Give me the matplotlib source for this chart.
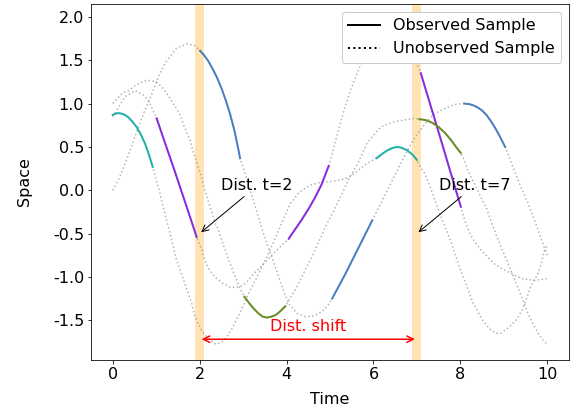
import numpy as np
import matplotlib.pyplot as plt
from matplotlib.lines import Line2D

plt.rcParams['font.size'] = 16
plt.rcParams['axes.unicode_minus'] = False

# four samples, values (time, space)
blue_t = [0.0, 0.16, 0.34, 0.47, 0.59, 0.72, 0.82, 0.89, 1.05, 1.22, 1.47, 1.70, 1.89,
          2.01, 2.1, 2.2, 2.3, 2.4, 2.5, 2.6, 2.7, 2.8, 2.9, 2.93,
          3.05, 3.16, 3.28, 3.43, 3.55, 3.66, 3.90, 4.05, 4.24, 4.43, 4.63, 4.82, 4.95,
          5.05, 5.2, 5.35, 5.5, 5.65, 5.8, 5.97,
          6.09, 6.32, 6.55, 6.74, 6.94, 7.13, 7.36, 7.63, 7.86,
          8.09, 8.2, 8.3, 8.4, 8.5, 8.6, 8.7, 8.8, 8.9, 9.0, 9.03,
          9.24, 9.40, 9.56, 9.68, 9.79, 9.93, 10.0]
blue_v = [0.0, 0.15, 0.38, 0.56, 0.73, 0.90, 1.01, 1.10, 1.31, 1.48, 1.64, 1.69, 1.67,
          1.61, 1.56, 1.49, 1.40, 1.30, 1.18, 1.04, 0.88, 0.69, 0.45, 0.37,
          0.19, 0.0, -0.19, -0.44, -0.62, -0.77, -1.12, -1.31, -1.42, -1.46, -1.45, -1.40, -1.33,
          -1.25, -1.11, -0.97, -0.82, -0.67, -0.52, -0.35,
          -0.23, 0.0, 0.23, 0.42, 0.60, 0.73, 0.87, 0.94, 0.99,
          1.00, 0.995, 0.98, 0.955, 0.92, 0.87, 0.80, 0.72, 0.63, 0.53, 0.50,
          0.23, 0.03, -0.15, -0.31, -0.46, -0.66, -0.75]
blue_obs = [(2.01, 2.93), (5.05, 5.97), (8.09, 9.03)]

teal_t = [0.0, 0.07, 0.14, 0.24, 0.34, 0.44, 0.55, 0.65, 0.75, 0.84, 0.92,
          1.01, 1.09, 1.16, 1.24, 1.32, 1.39, 1.47, 1.55, 1.66, 1.74, 1.82, 1.89,
          2.05, 2.12, 2.24, 2.38, 2.51, 2.63, 2.74, 2.86, 2.97, 3.09, 3.24, 3.47,
          3.70, 3.93, 4.09, 4.30, 4.55, 4.78, 5.01, 5.24, 5.43, 5.63, 5.82,
          6.07, 6.2, 6.32, 6.45, 6.55, 6.65, 6.78, 6.9, 7.0,
          7.05, 7.17, 7.24, 7.36, 7.47, 7.59, 7.71, 7.82, 7.90, 8.0, 8.13, 8.21,
          8.28, 8.40, 8.51, 8.67, 8.82, 8.94, 9.12, 9.28, 9.44, 9.55, 9.63, 9.77,
          9.86, 9.94, 10.0]
teal_v = [0.87, 0.885, 0.89, 0.88, 0.85, 0.80, 0.73, 0.64, 0.53, 0.40, 0.27,
          0.10, -0.04, -0.19, -0.35, -0.50, -0.65, -0.81, -0.92, -1.08, -1.19, -1.31, -1.46,
          -1.62, -1.67, -1.73, -1.78, -1.75, -1.69, -1.60, -1.48, -1.37, -1.23, -1.08, -0.85,
          -0.60, -0.33, -0.15, -0.02, 0.06, 0.09, 0.10, 0.12, 0.15, 0.22, 0.30,
          0.37, 0.42, 0.46, 0.49, 0.50, 0.49, 0.46, 0.41, 0.35,
          0.29, 0.20, 0.12, -0.04, -0.19, -0.35, -0.50, -0.65, -0.77, -0.92, -1.08, -1.19,
          -1.29, -1.40, -1.50, -1.60, -1.65, -1.65, -1.58, -1.50, -1.37, -1.21, -1.10, -0.98,
          -0.85, -0.69, -0.64]
teal_obs = [(0.0, 0.92), (6.07, 7.0)]

purple_t = [0.0, 0.09, 0.16, 0.28, 0.51, 0.70, 0.82, 0.90,
            1.01, 1.2, 1.4, 1.6, 1.8, 1.93,
            2.05, 2.12, 2.20, 2.28, 2.39, 2.55, 2.70, 2.86, 3.0, 3.10, 3.25, 3.40,
            3.60, 3.80,
            4.05, 4.2, 4.35, 4.5, 4.65, 4.8, 4.97,
            5.05, 5.17, 5.32, 5.47, 5.59, 5.70, 6.0, 6.35, 6.70, 6.95,
            7.09, 7.5, 8.01,
            8.09, 8.17, 8.24, 8.36, 8.48, 8.63, 8.78, 8.94, 9.09, 9.25, 9.40, 9.55,
            9.71, 9.86, 10.0]
purple_v = [0.85, 0.92, 0.98, 1.08, 1.15, 1.10, 1.04, 0.95,
            0.83, 0.55, 0.26, -0.04, -0.34, -0.54,
            -0.69, -0.81, -0.90, -0.96, -1.02, -1.08, -1.12, -1.12, -1.10, -1.05, -0.96, -0.89,
            -0.78, -0.68,
            -0.56, -0.45, -0.34, -0.22, -0.09, 0.06, 0.28,
            0.42, 0.65, 0.92, 1.15, 1.31, 1.44, 1.78, 1.93, 1.78, 1.52,
            1.35, 0.67, -0.19,
            -0.33, -0.44, -0.52, -0.62, -0.69, -0.77, -0.85, -0.90, -0.94, -0.98, -1.02, -1.03,
            -1.04, -1.03, -1.02]
purple_obs = [(1.01, 1.93), (4.05, 4.97), (7.09, 8.01)]

olive_t = [0.0, 0.09, 0.18, 0.26, 0.37, 0.49, 0.59, 0.72, 0.82, 1.01, 1.09, 1.16,
           1.24, 1.32, 1.39, 1.47, 1.55, 1.62, 1.70, 1.78, 1.83, 2.05, 2.12, 2.20,
           2.28, 2.35, 2.43, 2.51, 2.59, 2.66, 2.78, 2.90,
           3.03, 3.15, 3.25, 3.35, 3.45, 3.55, 3.65, 3.75, 3.85, 3.97,
           4.20, 4.40, 4.60, 4.90, 5.09, 5.28, 5.43, 5.63, 5.86, 6.17, 6.47, 6.70,
           6.94,
           7.06, 7.2, 7.35, 7.5, 7.65, 7.8, 7.9, 8.01,
           8.09, 8.17, 8.28, 8.40, 8.51, 8.59, 8.70, 8.85, 9.0, 9.16, 9.32, 9.44,
           9.55, 9.67, 9.79, 9.90, 10.0]
olive_v = [1.0, 1.05, 1.10, 1.13, 1.15, 1.20, 1.23, 1.26, 1.27, 1.25, 1.21, 1.17,
           1.12, 1.06, 1.0, 0.94, 0.87, 0.77, 0.67, 0.58, 0.48, 0.14, 0.0, -0.13,
           -0.25, -0.37, -0.46, -0.58, -0.69, -0.79, -0.95, -1.10,
           -1.23, -1.31, -1.37, -1.42, -1.46, -1.47, -1.46, -1.44, -1.40, -1.34,
           -1.15, -0.95, -0.75, -0.42, -0.23, -0.04, 0.13, 0.30, 0.55, 0.73, 0.79, 0.81,
           0.83,
           0.82, 0.81, 0.78, 0.73, 0.66, 0.57, 0.50, 0.43,
           0.35, 0.23, 0.12, 0.0, -0.12, -0.19, -0.35, -0.55, -0.73, -0.92, -1.12, -1.27,
           -1.42, -1.54, -1.65, -1.73, -1.78]
olive_obs = [(3.03, 3.97), (7.06, 8.01)]

samples = [
    (blue_t, blue_v, blue_obs, '#4a7fc1'),
    (teal_t, teal_v, teal_obs, '#20b2aa'),
    (purple_t, purple_v, purple_obs, '#8a2be2'),
    (olive_t, olive_v, olive_obs, '#6b8e23'),
]

fig = plt.figure(figsize=(579 / 72, 416 / 72), dpi=72)
ax = fig.add_axes([0.1572, 0.1346, 0.8255, 0.8558])

# distributions at t=2 and t=7
ax.axvspan(1.89, 2.1, color='orange', alpha=0.3, lw=0, zorder=0)
ax.axvspan(6.89, 7.1, color='orange', alpha=0.3, lw=0, zorder=0)

for t, v, obs, c in samples:
    t = np.array(t)
    v = np.array(v)
    ax.plot(t, v, ls=':', color='gray', alpha=0.6, lw=1.5)
    for lo, hi in obs:
        m = (t >= lo - 1e-9) & (t <= hi + 1e-9)
        ax.plot(t[m], v[m], color=c, lw=2, solid_joinstyle='round')

ax.annotate('Dist. t=2', xy=(2, -0.5), xytext=(2.5, 0.0),
            arrowprops=dict(arrowstyle='->', color='black', lw=1))
ax.annotate('Dist. t=7', xy=(7, -0.5), xytext=(7.5, 0.0),
            arrowprops=dict(arrowstyle='->', color='black', lw=1))
ax.annotate('', xy=(2, -1.72), xytext=(7, -1.72),
            arrowprops=dict(arrowstyle='<->', color='red', lw=1.5))
ax.text(4.5, -1.63, 'Dist. shift', color='red', ha='center')

handles = [Line2D([], [], color='black', lw=2),
           Line2D([], [], color='black', lw=2, ls=':')]
ax.legend(handles, ['Observed Sample', 'Unobserved Sample'], loc='upper right',
          framealpha=1)

ax.set_xlim(-0.5, 10.5)
ax.set_ylim(-1.96, 2.15)
ax.set_xticks([0, 2, 4, 6, 8, 10])
ax.set_yticks([-1.5, -1.0, -0.5, 0.0, 0.5, 1.0, 1.5, 2.0])
ax.set_xlabel('Time', labelpad=10)
ax.set_ylabel('Space', labelpad=21)

fig.savefig('out.png', dpi=72)
